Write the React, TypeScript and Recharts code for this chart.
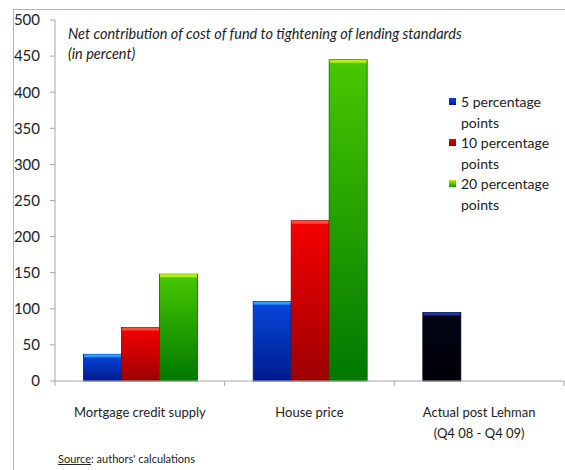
import { BarChart, Bar, XAxis, YAxis, Cell } from "recharts";

// categories and series values (percent)
const categories = ["Mortgage credit supply", "House price", "Actual post Lehman\n(Q4 08 - Q4 09)"];
const pp5 = [37, 110, 95];
const pp10 = [74, 222, null];
const pp20 = [148, 445, null];
const seriesNames = ["5 percentage points", "10 percentage points", "20 percentage points"];
const yTicks = [0, 50, 100, 150, 200, 250, 300, 350, 400, 450, 500];

const data = categories.map((name, i) => ({
  name,
  pp5: pp5[i],
  pp10: pp10[i],
  pp20: pp20[i],
}));

const FONT = "Lato, 'Open Sans', sans-serif";
const AXIS = "#a6a6a6";

// top highlight and edge colour for each gradient
const caps: Record<string, { cap: string; edge: string }> = {
  "url(#gBlue)": { cap: "#2f9cff", edge: "#001a80" },
  "url(#gRed)": { cap: "#ff4a3a", edge: "#8a0000" },
  "url(#gGreen)": { cap: "#b6f000", edge: "#006400" },
  "url(#gBlack)": { cap: "#1c3aa0", edge: "#000020" },
};

const ShadedBar = (props: any) => {
  const { x, y, width, height, fill } = props;
  if (!height || height <= 0) return null;
  const c = caps[fill] || { cap: fill, edge: fill };
  return (
    <g>
      <rect x={x} y={y} width={width} height={height} fill={fill} stroke={c.edge} strokeWidth={0.8} />
      <rect x={x + 0.5} y={y} width={width - 1} height={3} fill={c.cap} />
    </g>
  );
};

const CategoryTick = (props: any) => {
  const { x, y, payload, index, visibleTicksCount } = props;
  const half = payload && payload.offset ? payload.offset : 85;
  const lines = String(payload.value).split("\n");
  const axisY = y - 8;
  return (
    <g>
      <line x1={x - half} x2={x - half} y1={axisY} y2={axisY + 5} stroke={AXIS} />
      {index === visibleTicksCount - 1 && (
        <line x1={x + half} x2={x + half} y1={axisY} y2={axisY + 5} stroke={AXIS} />
      )}
      <text x={x} y={axisY + 36} textAnchor="middle" fontFamily={FONT} fontSize={13} fill="#222">
        {lines.map((l, i) => (
          <tspan key={i} x={x} dy={i === 0 ? 0 : 21}>
            {l}
          </tspan>
        ))}
      </text>
    </g>
  );
};

const legendFills = [
  ["#0d3fd8", "#001a90"],
  ["#e00000", "#8a0000"],
  ["#b8ea00", "#1f8f00"],
];

const LegendBox = () => (
  <div
    style={{
      position: "absolute",
      left: 449,
      top: 92,
      fontFamily: FONT,
      fontSize: 14,
      color: "#222",
      lineHeight: "20.6px",
    }}
  >
    {seriesNames.map((n, i) => {
      const words = n.split(" ");
      return (
        <div key={n} style={{ position: "relative", paddingLeft: 12 }}>
          <span
            style={{
              position: "absolute",
              left: 0,
              top: 6,
              width: 7,
              height: 7,
              background: `linear-gradient(${legendFills[i][0]}, ${legendFills[i][1]})`,
            }}
          />
          <div>{words.slice(0, 2).join(" ")}</div>
          <div>{words.slice(2).join(" ")}</div>
        </div>
      );
    })}
  </div>
);

export default function App() {
  return (
    <div
      style={{
        position: "absolute",
        left: 0,
        top: 0,
        width: 565,
        height: 470,
        background: "#fff",
        overflow: "hidden",
      }}
    >
      <div style={{ position: "absolute", left: 13, top: 9, width: 552, height: 461, borderLeft: "1px solid #b4b4b4", borderTop: "1px solid #b4b4b4" }} />
      <div
        style={{
          position: "absolute",
          left: 68,
          top: 24,
          fontFamily: FONT,
          fontStyle: "italic",
          fontSize: 14.5,
          lineHeight: "20px",
          color: "#222",
          zIndex: 2,
        }}
      >
        <div>Net contribution of cost of fund to tightening of lending standards</div>
        <div>(in percent)</div>
      </div>
      <BarChart
        width={565}
        height={470}
        data={data}
        margin={{ top: 20, right: 1, bottom: 49, left: 0 }}
        barCategoryGap="16.8%"
        barGap={0}
      >
        <defs>
          <linearGradient id="gBlue" x1="0" y1="0" x2="0" y2="1">
            <stop offset="0%" stopColor="#0648dc" />
            <stop offset="100%" stopColor="#001a8c" />
          </linearGradient>
          <linearGradient id="gRed" x1="0" y1="0" x2="0" y2="1">
            <stop offset="0%" stopColor="#f60000" />
            <stop offset="100%" stopColor="#9c0000" />
          </linearGradient>
          <linearGradient id="gGreen" x1="0" y1="0" x2="0" y2="1">
            <stop offset="0%" stopColor="#48c800" />
            <stop offset="100%" stopColor="#007800" />
          </linearGradient>
          <linearGradient id="gBlack" x1="0" y1="0" x2="0" y2="1">
            <stop offset="0%" stopColor="#000414" />
            <stop offset="100%" stopColor="#000008" />
          </linearGradient>
        </defs>
        <XAxis
          dataKey="name"
          height={40}
          axisLine={{ stroke: AXIS }}
          tickLine={false}
          interval={0}
          tick={<CategoryTick />}
        />
        <YAxis
          width={55}
          domain={[0, 500]}
          ticks={yTicks}
          interval={0}
          axisLine={{ stroke: AXIS }}
          tickLine={{ stroke: AXIS }}
          tickSize={5}
          tickMargin={10}
          tick={{ fontFamily: FONT, fontSize: 15, fill: "#222" }}
        />
        <Bar dataKey="pp5" name={seriesNames[0]} fill="url(#gBlue)" shape={<ShadedBar />} isAnimationActive={false}>
          {data.map((d, i) => (
            <Cell key={i} fill={i === 2 ? "url(#gBlack)" : "url(#gBlue)"} />
          ))}
        </Bar>
        <Bar dataKey="pp10" name={seriesNames[1]} fill="url(#gRed)" shape={<ShadedBar />} isAnimationActive={false} />
        <Bar dataKey="pp20" name={seriesNames[2]} fill="url(#gGreen)" shape={<ShadedBar />} isAnimationActive={false} />
      </BarChart>
      <LegendBox />
      <div
        style={{
          position: "absolute",
          left: 58,
          top: 452,
          fontFamily: FONT,
          fontSize: 11,
          color: "#222",
        }}
      >
        <span style={{ textDecoration: "underline" }}>Source</span>: authors' calculations
      </div>
    </div>
  );
}
